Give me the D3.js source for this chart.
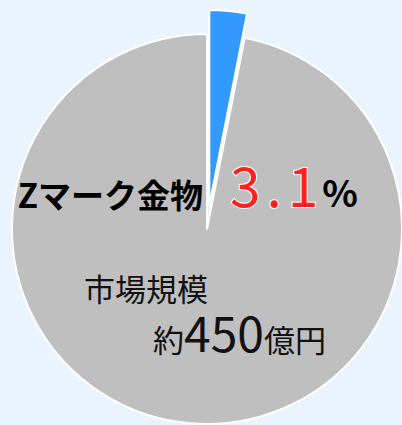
<!DOCTYPE html>
<html>
<head>
<meta charset="utf-8">
<script src="https://cdn.jsdelivr.net/npm/d3@7"></script>
<style>
  html, body { margin: 0; padding: 0; background: #eaf4ff; }
  svg { display: block; }
</style>
</head>
<body>
<div id="chart"></div>
<script>
// data
const categories = ["Zマーク金物", "その他"];
const shares = [3.1, 96.9];
const sliceColors = ["#3399ff", "#bfbfbf"];
const shareLabel = "3.1";
const marketLabel = "市場規模";
const marketValue = "450";

const width = 402, height = 425;
const cx = 207, cy = 229, radius = 195;
const explode = 24;

const svg = d3.select("#chart")
  .append("svg")
    .attr("width", width)
    .attr("height", height);

const g = svg.append("g")
  .attr("transform", `translate(${cx},${cy})`);

const pie = d3.pie().sort(null).value(d => d);
const arc = d3.arc().innerRadius(0).outerRadius(radius);
const arcs = pie(shares);

// slices (the small one pulled out)
g.selectAll("path")
  .data(arcs)
  .join("path")
    .attr("d", arc)
    .attr("fill", (d, i) => sliceColors[i])
    .attr("stroke", "#ffffff")
    .attr("stroke-width", 2)
    .attr("stroke-linejoin", "round")
    .attr("transform", (d, i) => {
      if (i !== 0) return null;
      const a = (d.startAngle + d.endAngle) / 2;
      return `translate(${explode * Math.sin(a)},${-explode * Math.cos(a)})`;
    });

// labels
const font = "'Noto Sans CJK JP', 'Noto Sans', sans-serif";

svg.append("text")
  .attr("x", 203)
  .attr("y", 208)
  .attr("text-anchor", "end")
  .attr("font-family", font)
  .attr("font-weight", "bold")
  .attr("font-size", 33)
  .attr("fill", "#000")
  .text(categories[0]);

const pct = svg.append("text")
  .attr("x", 230)
  .attr("y", 207)
  .attr("font-family", font);
pct.append("tspan")
  .attr("font-size", 55)
  .attr("fill", "#ff2020")
  .attr("stroke", "#ffffff")
  .attr("stroke-width", 2)
  .attr("paint-order", "stroke")
  .attr("letter-spacing", 6)
  .text(shareLabel);
pct.append("tspan")
  .attr("dx", -2)
  .attr("font-size", 37)
  .attr("font-weight", "bold")
  .attr("fill", "#000")
  .text("%");

svg.append("text")
  .attr("x", 84)
  .attr("y", 301)
  .attr("font-family", font)
  .attr("font-size", 31)
  .attr("fill", "#111")
  .text(marketLabel);

const mv = svg.append("text")
  .attr("x", 153)
  .attr("y", 352)
  .attr("font-family", font)
  .attr("fill", "#111");
mv.append("tspan").attr("font-size", 31).text("約");
mv.append("tspan").attr("font-size", 48).text(marketValue);
mv.append("tspan").attr("font-size", 31).text("億円");
</script>
</body>
</html>
